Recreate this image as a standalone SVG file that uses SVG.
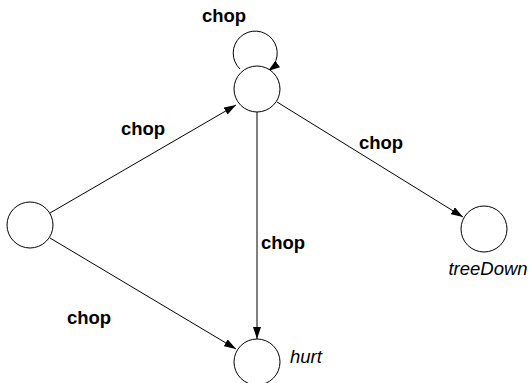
<svg xmlns="http://www.w3.org/2000/svg" width="529" height="383" viewBox="0 0 529 383">
<style>
.node{fill:#fff;stroke:#000;stroke-width:1}
.edge{fill:none;stroke:#000;stroke-width:1}
.el{font-family:"Liberation Sans",Arial,sans-serif;font-size:18.5px;font-weight:bold;fill:#000}
.nl{font-family:"Liberation Sans",Arial,sans-serif;font-size:18.5px;font-style:italic;fill:#000}
</style>
<defs>
<marker id="arr" viewBox="0 0 12 8" refX="12" refY="4" markerWidth="12" markerHeight="8" markerUnits="userSpaceOnUse" orient="auto">
<path d="M0,0 L12,4 L0,8 Z" fill="#000"/>
</marker>
</defs>
<rect width="529" height="383" fill="#fff"/>
<g id="connectors">
<path class="edge" d="M240,69 A22,22 0 1 1 268,71" marker-end="url(#arr)"/>
<line class="edge" x1="50" y1="213" x2="236" y2="105" marker-end="url(#arr)"/>
<line class="edge" x1="50" y1="238" x2="236" y2="349" marker-end="url(#arr)"/>
<line class="edge" x1="257" y1="112" x2="257" y2="339" marker-end="url(#arr)"/>
<line class="edge" x1="277" y1="102" x2="463" y2="217" marker-end="url(#arr)"/>
<text class="el" x="224" y="22" text-anchor="middle">chop</text>
<text class="el" x="143" y="135" text-anchor="middle">chop</text>
<text class="el" x="381" y="149" text-anchor="middle">chop</text>
<text class="el" x="283" y="249" text-anchor="middle">chop</text>
<text class="el" x="89" y="324" text-anchor="middle">chop</text>
</g>
<g id="n_top"><circle class="node" cx="257" cy="89" r="23"/></g>
<g id="n_left"><circle class="node" cx="30" cy="225" r="23"/></g>
<g id="n_treeDown"><circle class="node" cx="484" cy="229" r="23"/><text class="nl" x="488" y="275" text-anchor="middle">treeDown</text></g>
<g id="n_hurt"><circle class="node" cx="257" cy="362" r="23"/><text class="nl" x="290" y="363">hurt</text></g>
</svg>
